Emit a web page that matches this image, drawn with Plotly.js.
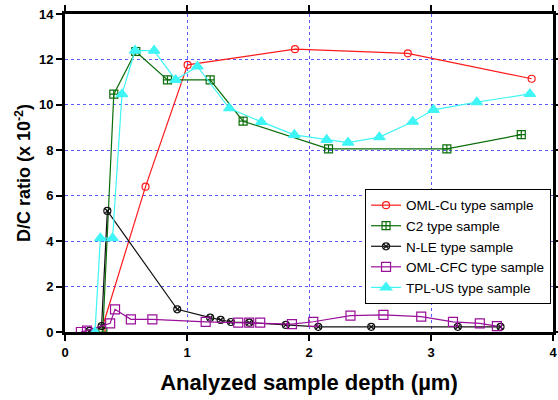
<!DOCTYPE html>
<html>
<head>
<meta charset="utf-8">
<script src="https://cdn.plot.ly/plotly-3.0.1.min.js"></script>
<style>html,body{margin:0;padding:0;background:#fff}#c{width:558px;height:400px}</style>
</head>
<body>
<div id="c"></div>
<script>
const cuX = [0.30, 0.66, 1.005, 1.885, 2.81, 3.825];
const cuY = [0.1, 6.4, 11.76, 12.45, 12.27, 11.15];

const c2X = [0.31, 0.40, 0.58, 0.84, 1.19, 1.46, 2.16, 3.13, 3.74];
const c2Y = [0.0, 10.47, 12.35, 11.1, 11.1, 9.28, 8.06, 8.06, 8.69];

const nleX = [0.20, 0.30, 0.347, 0.92, 1.19, 1.276, 1.36, 1.51, 1.81, 2.076, 2.51, 3.22, 3.57];
const nleY = [0.05, 0.26, 5.33, 1.0, 0.63, 0.53, 0.44, 0.41, 0.31, 0.23, 0.23, 0.23, 0.23];

const cfcX = [0.13, 0.18, 0.37, 0.41, 0.54, 0.716, 1.153, 1.42, 1.51, 1.6, 1.86, 2.035, 2.34, 2.61, 2.92, 3.18, 3.40, 3.54];
const cfcY = [0.0, 0.06, 0.38, 1.0, 0.56, 0.56, 0.45, 0.41, 0.41, 0.41, 0.35, 0.45, 0.72, 0.75, 0.68, 0.45, 0.38, 0.26];

const tplX = [0.246, 0.29, 0.39, 0.467, 0.574, 0.73, 0.907, 1.085, 1.347, 1.61, 1.88, 2.145, 2.32, 2.577, 2.85, 3.02, 3.375, 3.81];
const tplY = [0.0, 4.13, 4.13, 10.47, 12.39, 12.39, 11.1, 11.69, 9.85, 9.25, 8.68, 8.46, 8.34, 8.58, 9.26, 9.78, 10.12, 10.48];

const seriesNames = ["OML-Cu type sample", "C2 type sample", "N-LE type sample", "OML-CFC type sample", "TPL-US type sample"];
const xTicks = [0, 1, 2, 3, 4];
const yTicks = [0, 2, 4, 6, 8, 10, 12, 14];

function tr(x, y, name, color, symbol, size) {
  return {x: x, y: y, name: name, type: 'scatter', mode: 'lines+markers',
    line: {color: color, width: 1.2},
    marker: {symbol: symbol, size: size, color: color, line: {color: color, width: 1.2}}};
}
const data = [
  tr(cuX, cuY, seriesNames[0], '#ff1a1a', 'circle-open', 7),
  tr(c2X, c2Y, seriesNames[1], '#0a6e0a', 'square-cross-open', 8),
  tr(nleX, nleY, seriesNames[2], '#111111', 'circle-x-open', 7),
  tr(cfcX, cfcY, seriesNames[3], '#990f99', 'square-open', 9),
  tr(tplX, tplY, seriesNames[4], '#3ff5f5', 'triangle-up', 10)
];

const fontBold = 'Liberation Sans, Arial, sans-serif';
const layout = {
  width: 558, height: 400,
  margin: {l: 65, r: 5, t: 14, b: 68},
  paper_bgcolor: '#fff', plot_bgcolor: '#fff',
  showlegend: true,
  xaxis: {
    range: [0, 4], tickvals: xTicks, ticktext: xTicks.map(String),
    ticks: 'outside', ticklen: 6, tickwidth: 2, tickcolor: '#000',
    showline: true, linewidth: 3, linecolor: '#000', mirror: 'ticks',
    showgrid: true, gridcolor: '#5a5aff', griddash: 'dot', gridwidth: 1,
    zeroline: false, automargin: false,
    tickfont: {family: fontBold, size: 13, color: '#000', weight: 'bold'},
    title: {text: 'Analyzed sample depth (µm)', font: {family: fontBold, size: 22, color: '#000', weight: 'bold'}, standoff: 17}
  },
  yaxis: {
    range: [0, 14], tickvals: yTicks, ticktext: yTicks.map(String),
    ticks: 'outside', ticklen: 6, tickwidth: 2, tickcolor: '#000',
    showline: true, linewidth: 3, linecolor: '#000', mirror: 'ticks',
    showgrid: true, gridcolor: '#5a5aff', griddash: 'dot', gridwidth: 1,
    zeroline: false, automargin: false,
    tickfont: {family: fontBold, size: 13, color: '#000', weight: 'bold'},
    title: {text: 'D/C ratio (x 10<sup>-2</sup>)', font: {family: fontBold, size: 18, color: '#000', weight: 'bold'}, standoff: 4}
  },
  legend: {
    x: 0.996, y: 0.45, xanchor: 'right', yanchor: 'top',
    bgcolor: '#fff', bordercolor: '#000', borderwidth: 1,
    font: {family: 'Liberation Sans, Arial, sans-serif', size: 13.5, color: '#000'},
    tracegroupgap: 0, itemwidth: 30
  }
};
Plotly.newPlot('c', data, layout, {displayModeBar: false, staticPlot: true});
</script>
</body>
</html>
